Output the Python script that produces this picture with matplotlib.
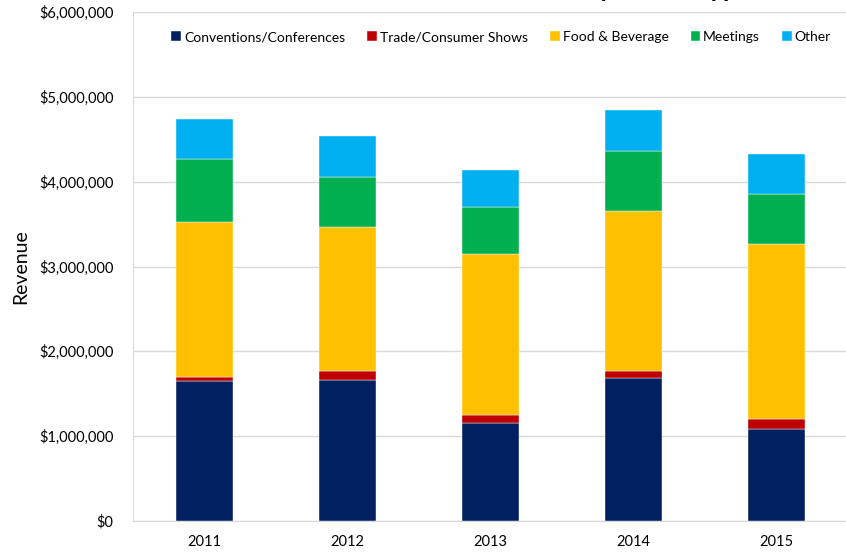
import matplotlib
matplotlib.use("Agg")
import matplotlib.pyplot as plt
from matplotlib.ticker import FuncFormatter
import numpy as np

years = ["2011", "2012", "2013", "2014", "2015"]
series_names = ["Conventions/Conferences", "Trade/Consumer Shows", "Food & Beverage", "Meetings", "Other"]
conventions = [1647000, 1666000, 1155000, 1690000, 1088000]
trade_shows = [54000, 99000, 98000, 82000, 118000]
food_beverage = [1820000, 1701000, 1891000, 1882000, 2059000]
meetings = [743000, 586000, 554000, 712000, 586000]
other = [475000, 490000, 443000, 475000, 479000]
colors = ["#002060", "#C00000", "#FFC000", "#00B050", "#00B0F0"]

plt.rcParams['font.family'] = ['Lato', 'DejaVu Sans']

fig = plt.figure(figsize=(8.46, 5.52), dpi=100)
ax = fig.add_axes([133/846, 31/552, 715/846, 509/552])

x = np.arange(len(years))
bottom = np.zeros(len(years))
for name, vals, c in zip(series_names, [conventions, trade_shows, food_beverage, meetings, other], colors):
    ax.bar(x, vals, 0.4, bottom=bottom, color=c, label=name, edgecolor='white', linewidth=0.3, zorder=3)
    bottom += np.array(vals)

ax.set_xlim(-0.5, 4.5)
ax.set_ylim(0, 6000000)
ax.set_yticks(np.arange(0, 6000001, 1000000))
ax.yaxis.set_major_formatter(FuncFormatter(lambda v, p: "${:,.0f}".format(v)))
ax.set_xticks(x)
ax.set_xticklabels(years)
ax.tick_params(axis='both', length=0, labelsize=10.5, colors='black')
ax.tick_params(axis='y', pad=14)
ax.tick_params(axis='x', pad=10)
ax.grid(axis='y', color='#d9d9d9', linewidth=1, zorder=0)
for s in ['top', 'right']:
    ax.spines[s].set_visible(False)
ax.spines['left'].set_color('#d9d9d9')
ax.spines['bottom'].set_color('#d9d9d9')
ax.set_ylabel("Revenue", fontsize=14, labelpad=12)
ax.yaxis.set_label_coords(-0.145, 0.5)

leg = ax.legend(ncol=5, loc='upper right', bbox_to_anchor=(831/846, 1 - 31/552),
                bbox_transform=fig.transFigure, frameon=False, borderpad=0, borderaxespad=0,
                fontsize=10, handlelength=0.7, handleheight=0.7, handletextpad=0.2,
                columnspacing=1.6)

fig.text(752/846, 1 + 3/552, "Revenue by Event Type", ha='right', va='baseline',
         fontsize=19, fontweight='bold')

fig.savefig("out.png", dpi=100)
